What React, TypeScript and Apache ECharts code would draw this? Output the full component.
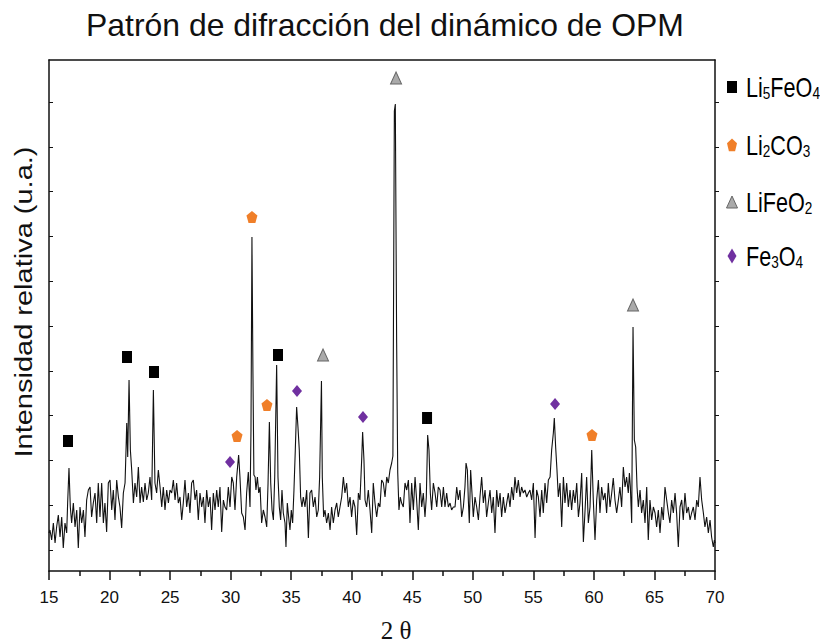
import React, { useEffect, useRef } from "react";
import * as echarts from "echarts";

// XRD scan, [2θ (deg), intensity (a.u.)]
const scan15to26: [number, number][] = [
  [15.0, 38], [15.08, 41], [15.22, 31], [15.36, 48], [15.5, 28], [15.63, 44], [15.77, 56], [15.91, 34],
  [16.05, 54], [16.18, 23], [16.32, 48], [16.46, 38], [16.54, 68], [16.65, 103], [16.76, 64], [16.87, 48],
  [17.01, 68], [17.15, 44], [17.29, 61], [17.42, 23], [17.56, 64], [17.7, 48], [17.84, 61], [17.97, 34],
  [18.11, 71], [18.25, 81], [18.39, 84], [18.52, 54], [18.66, 68], [18.8, 78], [18.94, 48], [19.07, 88],
  [19.21, 54], [19.35, 88], [19.49, 48], [19.62, 68], [19.76, 39], [19.9, 88], [20.04, 91], [20.18, 61],
  [20.31, 81], [20.45, 51], [20.59, 91], [20.73, 74], [20.86, 64], [21.0, 43], [21.14, 78], [21.28, 88],
  [21.36, 121], [21.42, 148], [21.5, 114], [21.61, 191], [21.72, 121], [21.83, 101], [21.97, 68], [22.1, 88],
  [22.24, 74], [22.38, 104], [22.52, 68], [22.65, 84], [22.79, 69], [22.93, 88], [23.07, 71], [23.2, 78],
  [23.34, 94], [23.48, 71], [23.62, 181], [23.75, 88], [23.89, 78], [24.03, 101], [24.17, 84], [24.31, 64],
  [24.44, 84], [24.58, 61], [24.72, 81], [24.86, 68], [24.99, 81], [25.13, 78], [25.27, 91], [25.41, 71],
  [25.54, 88], [25.68, 68], [25.82, 74], [25.96, 51], [26.09, 68],
];
const scan26to37: [number, number][] = [
  [26.23, 91], [26.37, 64], [26.51, 78], [26.64, 58], [26.78, 88], [26.92, 91], [27.06, 71], [27.19, 81],
  [27.33, 51], [27.47, 78], [27.61, 64], [27.75, 74], [27.88, 48], [28.02, 81], [28.16, 64], [28.3, 74],
  [28.43, 41], [28.57, 78], [28.71, 61], [28.85, 81], [28.98, 64], [29.12, 84], [29.26, 39], [29.4, 71],
  [29.53, 64], [29.67, 61], [29.81, 84], [29.95, 64], [30.09, 94], [30.22, 88], [30.36, 61], [30.5, 94],
  [30.66, 116], [30.77, 94], [30.91, 58], [31.05, 54], [31.19, 41], [31.32, 78], [31.46, 99], [31.6, 64],
  [31.68, 141], [31.76, 334], [31.84, 200], [31.92, 96], [32.02, 94], [32.09, 81], [32.21, 94], [32.32, 78],
  [32.43, 84], [32.56, 48], [32.7, 61], [32.84, 54], [32.98, 44], [33.09, 88], [33.2, 149], [33.31, 88],
  [33.42, 61], [33.53, 51], [33.64, 94], [33.8, 206], [33.91, 94], [34.02, 64], [34.13, 51], [34.24, 81],
  [34.35, 58], [34.49, 48], [34.57, 24], [34.68, 68], [34.79, 54], [34.9, 41], [35.01, 61], [35.12, 48],
  [35.23, 81], [35.34, 121], [35.45, 164], [35.56, 144], [35.67, 121], [35.78, 74], [35.89, 64], [36.0, 74],
  [36.14, 64], [36.28, 81], [36.42, 33], [36.55, 78], [36.69, 81], [36.83, 64], [36.97, 74], [37.11, 54],
  [37.24, 61],
];
const scan37to48: [number, number][] = [
  [37.35, 94], [37.5, 190], [37.57, 94], [37.68, 54], [37.79, 61], [37.93, 48], [38.07, 58], [38.21, 41],
  [38.34, 64], [38.48, 48], [38.62, 61], [38.76, 68], [38.89, 54], [39.03, 64], [39.17, 74], [39.31, 94],
  [39.44, 78], [39.58, 88], [39.72, 64], [39.86, 74], [39.99, 54], [40.13, 71], [40.27, 64], [40.41, 36],
  [40.55, 78], [40.68, 71], [40.82, 111], [40.9, 139], [41.01, 111], [41.1, 71], [41.23, 64], [41.37, 81],
  [41.51, 61], [41.65, 38], [41.78, 88], [41.92, 68], [42.06, 54], [42.2, 68], [42.33, 64], [42.47, 91],
  [42.61, 88], [42.75, 74], [42.89, 94], [43.02, 88], [43.16, 101], [43.3, 108], [43.4, 115], [43.52, 460],
  [43.6, 467], [43.71, 228], [43.8, 98], [43.9, 61], [44.01, 74], [44.12, 68], [44.26, 64], [44.4, 88],
  [44.54, 81], [44.68, 91], [44.81, 48], [44.95, 88], [45.09, 61], [45.23, 94], [45.36, 71], [45.5, 41],
  [45.64, 88], [45.78, 64], [45.91, 78], [46.05, 54], [46.16, 74], [46.27, 136], [46.38, 121], [46.49, 78],
  [46.6, 61], [46.74, 88], [46.88, 78], [47.02, 64], [47.15, 84], [47.29, 81], [47.43, 64], [47.57, 84],
  [47.7, 64], [47.84, 78], [47.98, 64], [48.12, 68], [48.25, 61], [48.39, 64],
];
const scan48to59: [number, number][] = [
  [48.53, 64], [48.67, 84], [48.8, 71], [48.94, 81], [49.08, 54], [49.22, 64], [49.35, 84], [49.44, 108],
  [49.55, 101], [49.63, 71], [49.71, 48], [49.82, 101], [49.93, 78], [50.04, 54], [50.18, 74], [50.32, 64],
  [50.46, 51], [50.59, 74], [50.73, 94], [50.87, 68], [51.01, 81], [51.14, 54], [51.28, 68], [51.42, 81],
  [51.56, 58], [51.69, 74], [51.83, 38], [51.97, 81], [52.11, 64], [52.25, 78], [52.38, 54], [52.52, 74],
  [52.66, 58], [52.8, 68], [52.93, 78], [53.07, 64], [53.21, 84], [53.35, 71], [53.48, 94], [53.62, 78],
  [53.76, 91], [53.9, 74], [54.03, 84], [54.17, 78], [54.31, 81], [54.45, 74], [54.59, 78], [54.72, 81],
  [54.86, 71], [55.0, 88], [55.14, 33], [55.27, 81], [55.41, 74], [55.55, 54], [55.69, 81], [55.82, 58],
  [55.96, 88], [56.1, 68], [56.24, 91], [56.38, 94], [56.51, 121], [56.65, 138], [56.73, 153], [56.84, 124],
  [56.95, 101], [57.06, 74], [57.2, 88], [57.34, 44], [57.48, 94], [57.61, 68], [57.75, 88], [57.89, 64],
  [58.03, 81], [58.16, 61], [58.3, 81], [58.44, 68], [58.58, 88], [58.72, 54], [58.85, 68], [58.99, 98],
  [59.13, 29], [59.27, 61], [59.4, 94], [59.54, 48],
];
const scan59to70: [number, number][] = [
  [59.68, 64], [59.82, 121], [59.95, 71], [60.09, 31], [60.23, 71], [60.37, 91], [60.5, 58], [60.64, 84],
  [60.78, 71], [60.92, 78], [61.05, 58], [61.19, 88], [61.33, 64], [61.47, 78], [61.6, 93], [61.74, 71],
  [61.88, 58], [62.02, 71], [62.15, 84], [62.29, 64], [62.43, 104], [62.57, 84], [62.7, 94], [62.84, 78],
  [62.93, 98], [63.01, 84], [63.12, 48], [63.23, 244], [63.34, 131], [63.45, 124], [63.56, 84], [63.67, 64],
  [63.81, 81], [63.94, 58], [64.08, 71], [64.22, 48], [64.36, 84], [64.49, 31], [64.63, 71], [64.77, 51],
  [64.91, 64], [65.05, 58], [65.18, 44], [65.32, 61], [65.46, 38], [65.6, 64], [65.73, 51], [65.87, 84],
  [66.01, 71], [66.15, 58], [66.28, 48], [66.42, 71], [66.56, 58], [66.7, 78], [66.83, 58], [66.97, 24],
  [67.11, 64], [67.25, 71], [67.38, 51], [67.52, 78], [67.66, 58], [67.8, 64], [67.94, 51], [68.07, 58],
  [68.21, 64], [68.35, 51], [68.49, 71], [68.62, 64], [68.76, 94], [68.9, 71], [69.04, 58], [69.17, 44],
  [69.31, 54], [69.45, 38], [69.59, 51], [69.72, 34], [69.86, 24], [69.95, 31], [70.0, 28],
];

// Phase markers, [2θ, height]
const li5feo4Marks: [number, number][] = [[16.57, 130], [21.44, 214], [23.67, 199], [33.91, 216], [46.22, 153]];
const li2co3Marks: [number, number][] = [[30.53, 135], [31.76, 354], [33.0, 166], [59.84, 136]];
const lifeo2Marks: [number, number][] = [[37.63, 216], [43.66, 493], [63.23, 266]];
const fe3o4Marks: [number, number][] = [[29.95, 109], [35.48, 180], [40.93, 154], [56.79, 167]];

const phaseLabels = ["Li{s|5}FeO{s|4}", "Li{s|2}CO{s|3}", "LiFeO{s|2}", "Fe{s|3}O{s|4}"];
const phaseNames = ["Li5FeO4", "Li2CO3", "LiFeO2", "Fe3O4"];

const xMin = 15;
const xMax = 70;
const xStep = 5;
const yMin = 0;
const yMax = 511;
const yTickValues = [21, 66, 111, 156, 200, 245, 290, 335, 380, 424, 469];

const titleText = "Patrón de difracción del dinámico de OPM";
const xName = "2 θ";
const yName = "Intensidad relativa (u.a.)";

const ORANGE = "#f07f29";
const PURPLE = "#7030a0";
const GREY = "#aaaaaa";
const SANS = "'Liberation Sans', Arial, sans-serif";
const SERIF = "'Liberation Serif', 'Times New Roman', serif";
const PENTAGON = "path://M50,0 L100,38 L81,100 L19,100 L0,38 Z";

export default function App() {
  const ref = useRef<HTMLDivElement>(null);

  useEffect(() => {
    if (!ref.current) return;
    const chart = echarts.init(ref.current, null, { renderer: "svg" });
    const scan = [...scan15to26, ...scan26to37, ...scan37to48, ...scan48to59, ...scan59to70];
    const axisLine = { show: true, onZero: false, lineStyle: { color: "#111", width: 1.5 } };

    const legendY = [88, 146, 203, 257];
    const legendSymbols: any[] = [
      { type: "rect", shape: { x: -5, y: -6, width: 10, height: 12 }, style: { fill: "#000" } },
      { type: "polygon", shape: { points: [[0, -6.5], [5, -1.8], [3.1, 6.2], [-3.1, 6.2], [-5, -1.8]] }, style: { fill: ORANGE } },
      { type: "polygon", shape: { points: [[0, -6], [5.5, 6], [-5.5, 6]] }, style: { fill: GREY, stroke: "#666", lineWidth: 1 } },
      { type: "polygon", shape: { points: [[0, -7.5], [4.5, 0], [0, 7.5], [-4.5, 0]] }, style: { fill: PURPLE } },
    ];
    const legendGraphics: any[] = [];
    phaseLabels.forEach((lab, i) => {
      legendGraphics.push({ ...legendSymbols[i], x: 732, y: legendY[i] - 1 });
      legendGraphics.push({
        type: "text",
        x: 746,
        y: legendY[i],
        scaleX: 0.8,
        style: {
          text: lab,
          fontSize: 27,
          fontFamily: SANS,
          fill: "#000",
          align: "left",
          verticalAlign: "middle",
          rich: { s: { fontSize: 17, fontFamily: SANS, fill: "#000", verticalAlign: "bottom", lineHeight: 12 } },
        },
      });
    });

    const markStyle = (color: string, extra: any = {}) => ({ color, opacity: 1, ...extra });

    chart.setOption({
      animation: false,
      backgroundColor: "#fff",
      grid: { left: 49, right: 105, top: 60, bottom: 71, containLabel: false },
      xAxis: [
        {
          type: "value",
          min: xMin,
          max: xMax,
          interval: xStep,
          position: "bottom",
          axisLine,
          axisTick: { show: true, inside: false, length: 9, lineStyle: { color: "#111", width: 1.5 } },
          minorTick: { show: true, splitNumber: 2, length: 5, lineStyle: { color: "#111", width: 1.5 } },
          axisLabel: { show: true, margin: 18, fontSize: 17, fontFamily: SANS, color: "#111" },
          splitLine: { show: false },
          minorSplitLine: { show: false },
        },
        {
          type: "value",
          min: xMin,
          max: xMax,
          position: "top",
          axisLine,
          axisTick: { show: false },
          axisLabel: { show: false },
          splitLine: { show: false },
        },
      ],
      yAxis: [
        {
          type: "value",
          min: yMin,
          max: yMax,
          position: "left",
          axisLine,
          axisTick: { show: true, inside: true, length: 4, customValues: yTickValues, lineStyle: { color: "#111", width: 1 } },
          axisLabel: { show: false },
          splitLine: { show: false },
        },
        {
          type: "value",
          min: yMin,
          max: yMax,
          position: "right",
          axisLine,
          axisTick: { show: true, inside: false, length: 4, customValues: yTickValues, lineStyle: { color: "#111", width: 1 } },
          axisLabel: { show: false },
          splitLine: { show: false },
        },
      ],
      graphic: [
        {
          type: "text",
          x: 385,
          y: 26,
          scaleX: 1.03,
          style: { text: titleText, fontSize: 31, fontFamily: SANS, fill: "#111", align: "center", verticalAlign: "middle" },
        },
        {
          type: "text",
          x: 24,
          y: 302,
          rotation: Math.PI / 2,
          scaleY: 0.8,
          style: { text: yName, fontSize: 29, fontFamily: SANS, fill: "#111", align: "center", verticalAlign: "middle" },
        },
        {
          type: "text",
          x: 396,
          y: 630,
          style: { text: xName, fontSize: 25, fontFamily: SERIF, fill: "#111", align: "center", verticalAlign: "middle" },
        },
        ...legendGraphics,
      ],
      series: [
        {
          name: "scan",
          type: "line",
          data: scan,
          showSymbol: false,
          symbol: "none",
          lineStyle: { color: "#111", width: 1.1 },
          z: 2,
        },
        { name: phaseNames[0], type: "scatter", data: li5feo4Marks, symbol: "rect", symbolSize: [10, 12], itemStyle: markStyle("#000"), z: 3 },
        { name: phaseNames[1], type: "scatter", data: li2co3Marks, symbol: PENTAGON, symbolSize: [11, 12], itemStyle: markStyle(ORANGE), z: 3 },
        { name: phaseNames[2], type: "scatter", data: lifeo2Marks, symbol: "triangle", symbolSize: [11, 12], itemStyle: markStyle(GREY, { borderColor: "#666", borderWidth: 1 }), z: 3 },
        { name: phaseNames[3], type: "scatter", data: fe3o4Marks, symbol: "diamond", symbolSize: [10, 12], itemStyle: markStyle(PURPLE), z: 3 },
      ],
    });
    return () => chart.dispose();
  }, []);

  return (
    <div
      ref={ref}
      style={{ position: "absolute", left: 0, top: 0, width: 820, height: 642, background: "#fff" }}
    />
  );
}
